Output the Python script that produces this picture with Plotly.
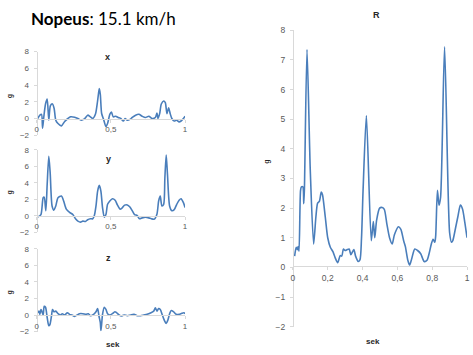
import plotly.graph_objects as go

# ---- data ----
tx = [0.007,0.022,0.033,0.04,0.049,0.06,0.071,0.082,0.093,0.107,0.118,0.129,0.144,0.167,0.189,0.211,0.229,0.256,0.278,0.3,0.322,0.344,0.362,0.378,0.396,0.411,0.422,0.429,0.438,0.451,0.467,0.478,0.493,0.504,0.516,0.533,0.549,0.567,0.584,0.596,0.611,0.629,0.644,0.667,0.689,0.711,0.733,0.756,0.778,0.8,0.811,0.818,0.829,0.84,0.856,0.867,0.878,0.889,0.9,0.911,0.927,0.944,0.96,0.973,0.989,1.0]
vx = [0,0.4,0.5,-1.16,0.3,1.74,2.33,-0.2,1.55,1.74,1.2,-0.2,-0.6,-0.88,-0.35,0,0.2,0.15,0,-0.2,-0.05,0.4,0.2,0,0.5,2.14,3.57,2.9,0.6,-0.1,-0.97,-0.6,0.5,0.78,0.2,0.27,0.12,0,-0.3,0,-0.2,-0.1,0.12,0.4,0.5,0.27,0.12,0.27,0,0.12,0.66,0,0.58,1.74,2.1,1.9,0.58,1.28,0.58,0,-0.3,-0.2,-0.4,-0.3,0,0.27]

ty = [0.005,0.011,0.029,0.044,0.051,0.062,0.071,0.082,0.091,0.104,0.116,0.129,0.144,0.167,0.182,0.2,0.222,0.244,0.262,0.278,0.296,0.311,0.329,0.344,0.362,0.378,0.389,0.4,0.411,0.422,0.433,0.444,0.456,0.467,0.478,0.493,0.511,0.529,0.544,0.562,0.578,0.593,0.611,0.627,0.644,0.66,0.678,0.693,0.711,0.733,0.756,0.773,0.793,0.811,0.822,0.833,0.844,0.856,0.864,0.873,0.882,0.896,0.911,0.927,0.944,0.96,0.973,0.989,1.0]
vy = [-0.1,-0.1,0.15,2.2,2.27,0.63,3.8,7.2,5.3,1.2,0.7,1.2,2.2,2.4,1.8,0.82,0.43,0.16,-0.35,-0.63,-0.75,-0.63,-0.67,-0.47,-0.35,-0.35,0.04,1.2,3.0,3.69,3.0,1.0,-0.16,0.16,1.4,1.8,2.08,1.9,1.33,0.82,1.0,1.3,1.33,1.1,0.63,0.16,0.04,-0.35,-0.24,-0.16,-0.24,-0.35,-0.39,0.24,1.8,2.39,1.2,1.4,4.55,7.37,4.9,1.2,0.63,0.75,1.4,1.9,2.08,1.6,1.0]

tz = [0.007,0.016,0.022,0.029,0.033,0.044,0.051,0.06,0.071,0.082,0.089,0.1,0.107,0.116,0.129,0.144,0.16,0.173,0.189,0.207,0.222,0.238,0.256,0.273,0.289,0.311,0.333,0.349,0.362,0.378,0.4,0.411,0.42,0.429,0.433,0.438,0.444,0.456,0.467,0.478,0.493,0.511,0.527,0.54,0.556,0.571,0.589,0.611,0.633,0.656,0.678,0.7,0.722,0.744,0.767,0.789,0.8,0.811,0.822,0.833,0.844,0.86,0.873,0.884,0.896,0.907,0.922,0.94,0.96,0.978,0.993,1.0]
vz = [0.27,0.47,0.08,0.67,0.55,0,1.06,0.94,-0.3,-1.3,-1.18,-0.12,0.67,0.4,0.47,0.16,0,0.16,0,0.27,0.08,0,-0.16,0,0.16,0.16,0.08,0.16,-0.08,0,0.4,0.78,-0.12,-0.9,-1.88,-1.1,0.08,0.94,0.67,0.16,0,0.16,0.4,0.27,0,-0.12,0,-0.08,0,0.08,-0.08,-0.08,0,0.08,0.24,0.47,0.86,0.47,0.78,0.67,0.16,-0.63,-1.02,-0.63,0.16,0.55,0.4,0.08,0.08,0.2,0.27,0.16]

tr = [0.01,0.019,0.026,0.03,0.035,0.044,0.049,0.057,0.0625,0.066,0.081,0.1,0.119,0.132,0.142,0.152,0.163,0.17,0.186,0.2,0.215,0.23,0.243,0.257,0.272,0.281,0.29,0.3,0.312,0.323,0.333,0.35,0.36,0.375,0.385,0.394,0.403,0.422,0.45,0.462,0.47,0.481,0.498,0.513,0.525,0.54,0.555,0.57,0.583,0.606,0.62,0.636,0.646,0.66,0.67,0.68,0.7,0.716,0.734,0.754,0.77,0.782,0.795,0.805,0.815,0.82,0.83,0.839,0.848,0.871,0.9,0.911,0.918,0.934,0.947,0.962,0.974,0.987,1.0]
vr = [0.38,0.68,0.6,0.7,0.55,2.6,2.72,2.72,2.15,2.6,7.35,3.25,0.79,1.7,2.17,2.23,2.54,2.45,1.7,1.0,0.68,0.53,0.32,0.16,0.4,0.38,0.62,0.57,0.6,0.62,0.43,0.6,0.38,0.2,0.25,0.98,2.6,5.12,0.9,1.55,1.0,1.6,2.0,2.02,1.96,1.45,1.0,0.79,1.1,1.37,1.28,0.9,0.7,0.24,0.08,0.24,0.62,0.57,0.46,0.2,0.24,0.46,0.79,0.95,0.85,1.06,2.6,2.1,2.36,7.44,1.17,0.85,0.9,1.33,1.7,2.1,1.97,1.53,1.0]

left_ticks = [0, 0.5, 1]
left_ticktext = ["0", "0,5", "1"]
r_ticks = [0, 0.2, 0.4, 0.6, 0.8, 1]
r_ticktext = ["0", "0,2", "0,4", "0,6", "0,8", "1"]

W, H = 473, 355
LINE = "#4a7ebb"
AX = "#d9d9d9"
TXT = "#595959"
FONT = "Liberation Sans"

def px(x): return x / W
def py(y): return 1 - y / H

fig = go.Figure()
series = [(tx, vx, "x", "y"), (ty, vy, "x2", "y2"), (tz, vz, "x3", "y3"), (tr, vr, "x4", "y4")]
for t, v, xa, ya in series:
    fig.add_trace(go.Scatter(x=t, y=v, mode="lines", xaxis=xa, yaxis=ya,
                             line=dict(color=LINE, width=1.6, shape="spline", smoothing=0.7),
                             showlegend=False, hoverinfo="skip"))

def xax(dom, pos, tv, tt, size):
    return dict(domain=dom, range=[0, 1], anchor="free", position=pos,
                showline=True, linecolor=AX, linewidth=1, showgrid=False, zeroline=False,
                ticks="outside", ticklen=3, tickcolor=AX, tickvals=tv, ticktext=tt,
                tickfont=dict(size=size, color=TXT, family=FONT), fixedrange=True)

def yax(dom, xpos, dtick, size):
    return dict(domain=dom, range=[-2, 8], anchor="free", position=xpos,
                showline=True, linecolor=AX, linewidth=1, showgrid=False, zeroline=False,
                ticks="outside", ticklen=3, tickcolor=AX, dtick=dtick, ticklabelstandoff=3,
                tickfont=dict(size=size, color=TXT, family=FONT), fixedrange=True)

ldom = [px(35), px(185)]
rdom = [px(294), px(470)]
fig.update_layout(
    width=W, height=H, margin=dict(l=0, r=0, t=0, b=0),
    paper_bgcolor="white", plot_bgcolor="rgba(0,0,0,0)",
    xaxis=xax(ldom, py(117), left_ticks, left_ticktext, 8),
    yaxis=yax([py(134), py(48)], px(35), 2, 8),
    xaxis2=xax(ldom, py(217), left_ticks, left_ticktext, 8),
    yaxis2=yax([py(234), py(149)], px(35), 2, 8),
    xaxis3=xax(ldom, py(319), left_ticks, left_ticktext, 8),
    yaxis3=yax([py(336), py(251)], px(35), 2, 8),
    xaxis4=xax(rdom, py(269), r_ticks, r_ticktext, 8.5),
    yaxis4=yax([py(331), py(26)], px(294), 1, 8.5),
)

def ann(x, y, text, size, angle=0, color="#262626", family=FONT):
    fig.add_annotation(x=px(x), y=py(y), xref="paper", yref="paper", text=text,
                       showarrow=False, xanchor="center", yanchor="middle", textangle=angle,
                       font=dict(size=size, color=color, family=family))

ann(103, 14, "<b>Nopeus</b>: 15.1 km/h", 17, color="#000000", family="Lato")
ann(107, 54, "<b>x</b>", 9)
ann(108, 158, "<b>y</b>", 9)
ann(108, 260, "<b>z</b>", 9)
ann(378, 10, "<b>R</b>", 9)
ann(112, 349, "<b>sek</b>", 8)
ann(375, 346, "<b>sek</b>", 8)
for gy in (94, 193, 296):
    ann(8, gy, "<b>g</b>", 7, angle=-90)
ann(268, 161, "<b>g</b>", 7, angle=-90)

fig.write_html("out.html")
